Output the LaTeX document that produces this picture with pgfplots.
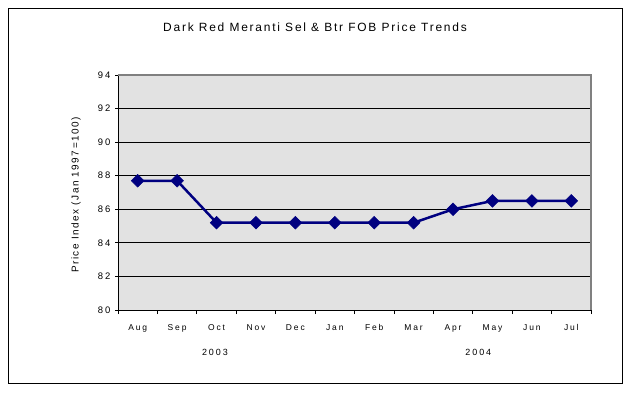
\documentclass[border=0pt]{standalone}
\usepackage{fontspec}
\setmainfont{Liberation Sans}
\newfontfamily\titlefont[LetterSpace=15]{Liberation Sans}
\newfontfamily\tickfont[LetterSpace=22]{Liberation Sans}
\newfontfamily\labfont[LetterSpace=15]{Liberation Sans}
\usepackage{pgfplots}
\pgfplotsset{compat=1.18}
\definecolor{bg}{RGB}{226,226,226}
\definecolor{navy}{RGB}{0,0,128}
\begin{document}
\begin{tikzpicture}[x=1bp,y=1bp]
\useasboundingbox (0,0) rectangle (629,393);
\draw[line width=0.8bp] (8.5,9.5) rectangle (622,385);
\begin{axis}[
  at={(118bp,83bp)}, anchor=south west,
  scale only axis, width=473bp, height=235bp,
  xmin=-0.5, xmax=11.5, ymin=80, ymax=94,
  ytick={80,82,...,94},
  xtick={0,...,11},
  xticklabels={Aug,Sep,Oct,Nov,Dec,Jan,Feb,Mar,Apr,May,Jun,Jul},
  minor xtick={-0.5,0.5,...,11.5},
  major x tick style={draw=none},
  minor tick length=4bp,
  major tick length=3bp,
  tick align=outside,
  xtick pos=bottom, ytick pos=left,
  ymajorgrids, grid style={black, line width=0.8bp},
  axis line style={black, line width=0.8bp},
  axis x line*=bottom, axis y line*=left,
  tick style={black, line width=0.8bp},
  axis background/.style={fill=bg},
  /pgf/number format/assume math mode=true,
  xticklabel style={font=\tickfont\fontsize{8.5}{10}\selectfont, yshift=-8bp},
  yticklabel style={font=\tickfont\fontsize{9.5}{10}\selectfont, xshift=-1bp},
  clip=false,
]
\draw[draw=gray, line width=1.6bp] (rel axis cs:0,1) -- (rel axis cs:1,1) -- (rel axis cs:1,0);
\addplot[navy, line width=2.5bp, mark=square*, mark size=4.5bp, mark options={fill=navy, draw=navy, rotate=45, line width=0.5bp}]
coordinates {(0,87.7)(1,87.7)(2,85.2)(3,85.2)(4,85.2)(5,85.2)(6,85.2)(7,85.2)(8,86.0)(9,86.5)(10,86.5)(11,86.5)};
\node[font=\tickfont\fontsize{9}{10}\selectfont] at ([yshift=-42bp]axis cs:1.96,80) {2003};
\node[font=\tickfont\fontsize{9}{10}\selectfont] at ([yshift=-42bp]axis cs:8.64,80) {2004};
\end{axis}
\node[font=\titlefont\fontsize{12}{14}\selectfont] at (315,366) {Dark Red Meranti Sel \& Btr FOB Price Trends};
\node[rotate=90, font=\labfont\fontsize{10}{12}\selectfont] at (76,198) {Price Index (Jan 1997=100)};
\end{tikzpicture}
\end{document}
